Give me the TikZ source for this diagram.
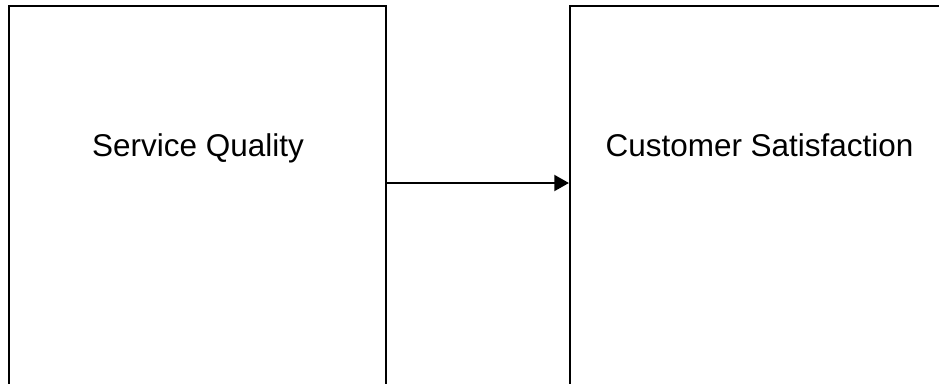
\documentclass[tikz,border=0pt]{standalone}
\usepackage{fontspec}
\setmainfont{Liberation Sans}
\usetikzlibrary{arrows.meta,positioning}

\begin{document}
\begin{tikzpicture}[
  x=0.75pt,y=-0.75pt,
  box/.style={rectangle,draw,line width=1.6pt,minimum width=282.75pt,minimum height=315pt,inner sep=0pt},
  lbl/.style={font=\fontsize{23.6}{28}\selectfont,anchor=base},
  link/.style={-{Triangle[length=11pt,width=12pt]},line width=1.6pt}
]
\useasboundingbox (0,0) rectangle (939,383);
\clip (0,0) rectangle (939,383);
% two tall boxes, cut off by the page at the bottom and right
\node[box] (sq) at (197.5,216) {};
\node[box] (cs) at (758.5,216) {};
\node[lbl] (sqtext) at (198,156.5) {Service Quality};
\node[lbl] (cstext) at (759.5,156.5) {Customer Satisfaction};
\coordinate (mid) at (0,183);
\draw[link] (sq.east |- mid) -- (cs.west |- mid);
\end{tikzpicture}
\end{document}
